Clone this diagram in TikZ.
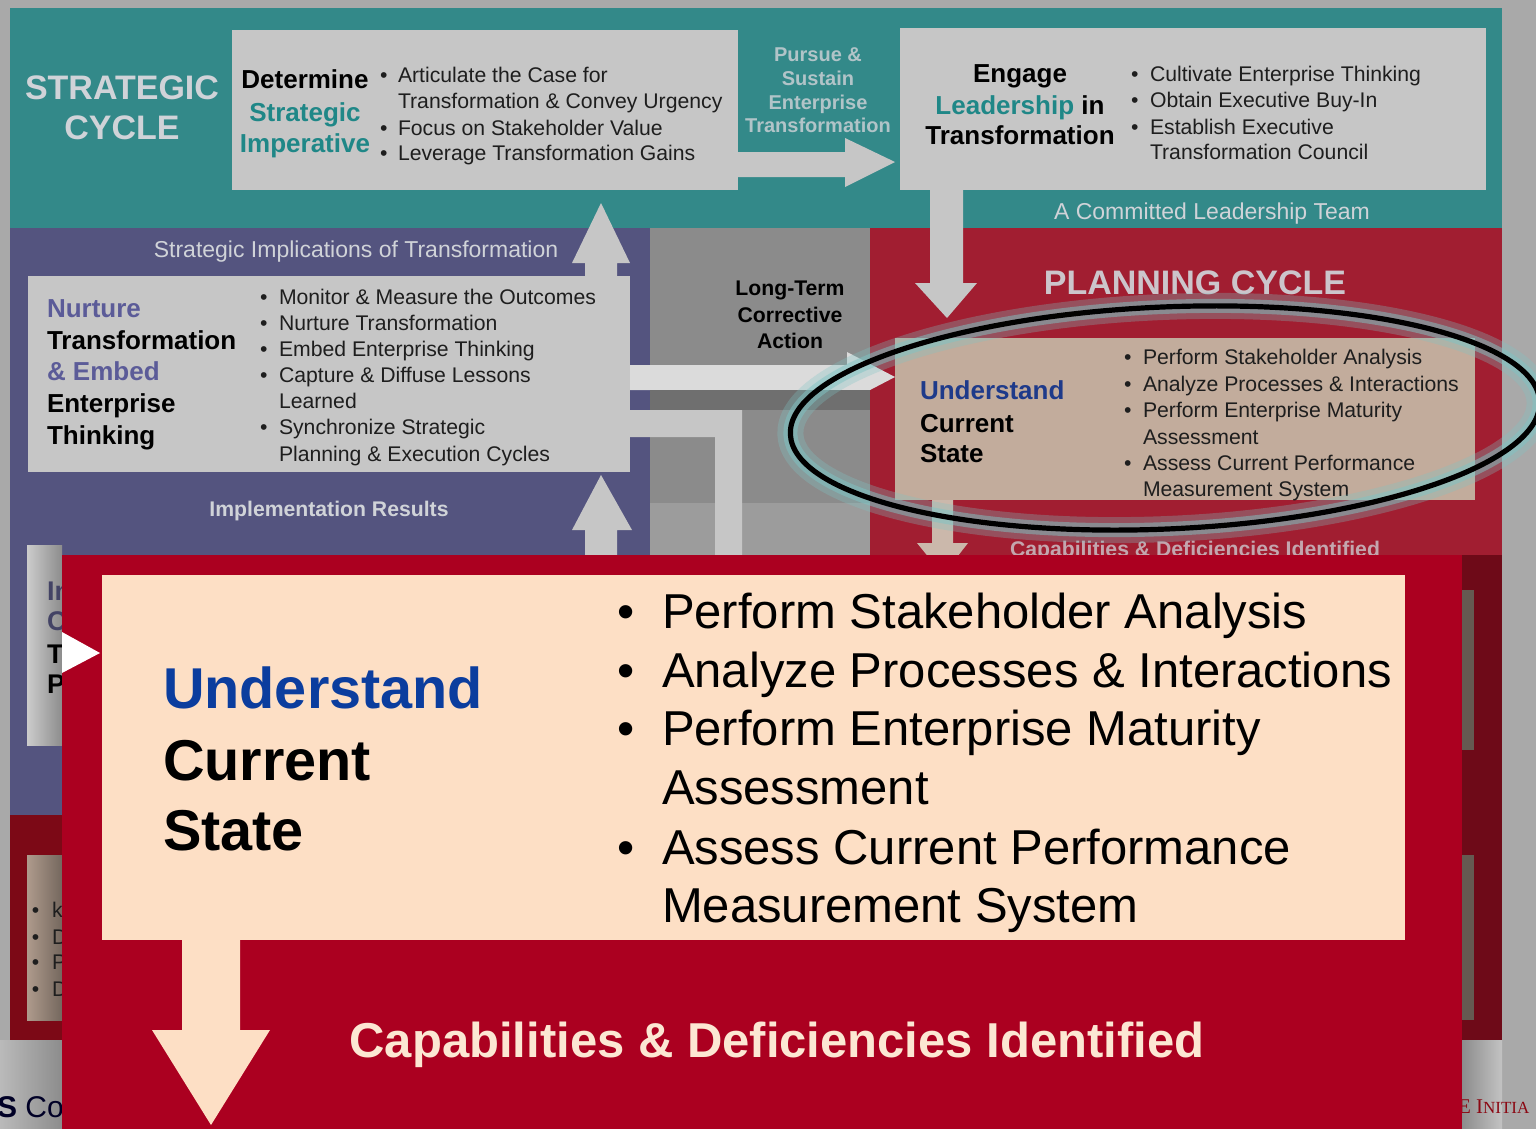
\documentclass[tikz,border=0pt]{standalone}
\usepackage{fontspec}
\setmainfont{Liberation Sans}
\newfontfamily\serifcapsfont{Liberation Serif}
\newcommand\myfs[1]{\fontsize{#1}{#1}\selectfont}
\newcommand\bitem[6]{\node[#1] (#2-b) at (#3,#5) {\textbullet}; \node[#1] (#2) at (#4,#5) {#6};}
\definecolor{bgc}{HTML}{A9A9A9}
\definecolor{tealc}{HTML}{338989}
\definecolor{boxg}{HTML}{C6C6C6}
\definecolor{purp}{HTML}{54547F}
\definecolor{midg}{HTML}{8B8B8B}
\definecolor{planred}{HTML}{A11E31}
\definecolor{tanc}{HTML}{C2AC9C}
\definecolor{insetred}{HTML}{AB0020}
\definecolor{peach}{HTML}{FDDFC5}
\definecolor{bluet}{HTML}{0B3D9E}
\definecolor{bluesm}{HTML}{1E3A8A}
\definecolor{tealt}{HTML}{1F8787}
\definecolor{purpt}{HTML}{5B5B98}
\definecolor{lightlbl}{HTML}{D0D3D8}
\definecolor{darkred}{HTML}{6E0A18}
\definecolor{capt}{HTML}{FCE7D3}
\definecolor{smtxt}{HTML}{1E1E1E}
\definecolor{glow}{HTML}{7FC4C4}
\tikzset{
  txt/.style={inner sep=0pt, outer sep=0pt},
  sm/.style={txt, anchor=base west, font=\myfs{10.6}, text=smtxt},
  big/.style={txt, anchor=base west, font=\myfs{24.5}, text=black},
  hd/.style={txt, anchor=base, font=\bfseries\myfs{13}, text=black},
  hdl/.style={txt, anchor=base west, font=\bfseries\myfs{13}, text=black},
  bighd/.style={txt, anchor=base west, font=\bfseries\myfs{28.8}, text=black},
  cyc/.style={txt, anchor=base, font=\bfseries\myfs{17}, text=lightlbl},
  lbl/.style={txt, anchor=base, font=\myfs{11.5}, text=lightlbl},
  lblb/.style={txt, anchor=base, font=\bfseries\myfs{10.6}, text=lightlbl},
  arrowfill/.style={fill=boxg},
}
\begin{document}
\begin{tikzpicture}[x=0.5pt,y=-0.5pt]
\useasboundingbox (0,0) rectangle (1536,1129);
\fill[bgc] (0,0) rectangle (1536,1129);

% ---------- background regions ----------
\fill[tealc] (10,8) rectangle (1502,228);
\fill[purp] (10,228) rectangle (650,815);
\fill[midg] (650,228) rectangle (870,555);
\fill[midg!85!white] (650,503) rectangle (870,555);
\fill[planred] (870,228) rectangle (1502,555);

% ---------- top boxes ----------
\fill[boxg] (232,30) rectangle (738,190);
\fill[boxg] (900,28) rectangle (1486,190);

% pursue arrow
\fill[arrowfill] (738,152) -- (845,152) -- (845,138) -- (895,162) -- (845,187) -- (845,177) -- (738,177) -- cycle;
% engage down arrow
\fill[arrowfill] (930,190) -- (963,190) -- (963,283) -- (977,283) -- (947,318) -- (915,283) -- (930,283) -- cycle;

% ---------- nurture box and arrows ----------
\fill[boxg] (28,276) rectangle (630,472);
\fill[arrowfill] (585,276) -- (585,263) -- (572,263) -- (601,203) -- (630,263) -- (617,263) -- (617,276) -- cycle;
\fill[arrowfill] (585,555) -- (585,530) -- (572,530) -- (601,475) -- (632,530) -- (617,530) -- (617,555) -- cycle;
\fill[black!14] (630,365) -- (847,365) -- (847,352) -- (895,377) -- (847,402) -- (847,390) -- (630,390) -- cycle;
\fill[midg!80!black] (650,390) rectangle (870,410);
\fill[boxg] (630,410) -- (742,410) -- (742,555) -- (715,555) -- (715,437) -- (630,437) -- cycle;

% ---------- planning box ----------
\fill[tanc] (895,338) rectangle (1475,500);
\fill[tanc!85!white] (932,500) -- (953,500) -- (953,543) -- (968,543) -- (943,575) -- (917,543) -- (932,543) -- cycle;

% ---------- hidden lower parts ----------
\shade[left color=boxg!90!white, right color=black!45] (27,545) rectangle (62,745);
\fill[darkred!90!red] (10,815) rectangle (62,1040);
\shade[left color=tanc!90!black, right color=tanc!60!black] (27,855) rectangle (62,1020);
\shade[left color=bgc!80!white, right color=black!45] (0,1040) rectangle (62,1129);
\fill[darkred] (1462,555) rectangle (1502,1040);
\fill[black!48!tanc] (1462,590) rectangle (1474,750);
\fill[black!48!tanc] (1462,855) rectangle (1474,1020);
\shade[left color=black!45, right color=bgc!70!white] (1462,1040) rectangle (1502,1129);

% ---------- texts (top) ----------
\node[cyc] (strat1) at (122,100) {STRATEGIC};
\node[cyc] (strat2) at (122,140) {CYCLE};

\node[hd] (detA) at (305,89) {Determine};
\node[hd, text=tealt] (detB) at (305,121) {Strategic};
\node[hd, text=tealt] (detC) at (305,152) {Imperative};
\bitem{sm}{d1}{380}{398}{83}{Articulate the Case for}
\node[sm] (d1b2) at (398,109) {Transformation \& Convey Urgency};
\bitem{sm}{d2}{380}{398}{135}{Focus on Stakeholder Value}
\bitem{sm}{d3}{380}{398}{161}{Leverage Transformation Gains}

\node[lblb, text=lightlbl!80!tealc, font=\bfseries\myfs{10}] (p1) at (818,62) {Pursue \&};
\node[lblb, text=lightlbl!80!tealc, font=\bfseries\myfs{10}] (p2) at (818,86) {Sustain};
\node[lblb, text=lightlbl!80!tealc, font=\bfseries\myfs{10}] (p3) at (818,110) {Enterprise};
\node[lblb, text=lightlbl!80!tealc, font=\bfseries\myfs{10}] (p4) at (818,133) {Transformation};

\node[hd] (engA) at (1020,83) {Engage};
\node[hd] (engB) at (1020,114) {\textcolor{tealt}{Leadership} in};
\node[hd] (engC) at (1020,145) {Transformation};
\bitem{sm}{e1}{1131}{1150}{82}{Cultivate Enterprise Thinking}
\bitem{sm}{e2}{1131}{1150}{108}{Obtain Executive Buy-In}
\bitem{sm}{e3}{1131}{1150}{134}{Establish Executive}
\node[sm] (e3b2) at (1150,160) {Transformation Council};
\node[lbl] (team) at (1212,219) {A Committed Leadership Team};

% ---------- texts (middle) ----------
\node[lbl] (impl) at (356,257) {Strategic Implications of Transformation};
\node[hdl, text=purpt] (nA) at (47,317) {Nurture};
\node[hdl] (nB) at (47,349) {Transformation};
\node[hdl, text=purpt] (nC) at (47,380) {\& Embed};
\node[hdl] (nD) at (47,412) {Enterprise};
\node[hdl] (nE) at (47,444) {Thinking};
\bitem{sm}{n1}{260}{279}{304}{Monitor \& Measure the Outcomes}
\bitem{sm}{n2}{260}{279}{330}{Nurture Transformation}
\bitem{sm}{n3}{260}{279}{356}{Embed Enterprise Thinking}
\bitem{sm}{n4}{260}{279}{382}{Capture \& Diffuse Lessons}
\node[sm] (n4b2) at (279,408) {Learned};
\bitem{sm}{n5}{260}{279}{434}{Synchronize Strategic}
\node[sm] (n5b2) at (279,461) {Planning \& Execution Cycles};
\node[lblb] (res) at (329,516) {Implementation Results};

\node[txt, anchor=base, font=\bfseries\myfs{10.6}] (lt1) at (790,295) {Long-Term};
\node[txt, anchor=base, font=\bfseries\myfs{10.6}] (lt2) at (790,322) {Corrective};
\node[txt, anchor=base, font=\bfseries\myfs{10.6}] (lt3) at (790,348) {Action};

\node[cyc, text=lightlbl!92!planred] (plan) at (1195,294) {PLANNING CYCLE};
\node[hdl, text=bluesm] (uA) at (920,399) {Understand};
\node[hdl] (uB) at (920,432) {Current};
\node[hdl] (uC) at (920,462) {State};
\bitem{sm}{u1}{1124}{1143}{364}{Perform Stakeholder Analysis}
\bitem{sm}{u2}{1124}{1143}{391}{Analyze Processes \& Interactions}
\bitem{sm}{u3}{1124}{1143}{417}{Perform Enterprise Maturity}
\node[sm] (u3b2) at (1143,444) {Assessment};
\bitem{sm}{u4}{1124}{1143}{470}{Assess Current Performance}
\node[sm] (u4b2) at (1143,496) {Measurement System};
\node[lblb, text=lightlbl!75!planred] (capsm) at (1195,556) {Capabilities \& Deficiencies Identified};

% ellipse highlight
\draw[glow, line width=13pt, opacity=.3, rotate around={2.5:(1165,418)}] (1165,418) ellipse [x radius=375, y radius=111];
\draw[glow, line width=7pt, opacity=.5, rotate around={2.5:(1165,418)}] (1165,418) ellipse [x radius=375, y radius=111];
\draw[black, line width=2.6pt, rotate around={2.5:(1165,418)}] (1165,418) ellipse [x radius=375, y radius=111];

% hidden lower texts
\node[hdl, text=purp!80!black, font=\bfseries\myfs{13.5}] (hA) at (47,600) {In};
\node[hdl, text=purp!80!black, font=\bfseries\myfs{13.5}] (hB) at (47,630) {C};
\node[hdl, font=\bfseries\myfs{13.5}] (hC) at (47,663) {T};
\node[hdl, font=\bfseries\myfs{13.5}] (hD) at (47,693) {P};
\bitem{sm}{k1}{32}{52}{917}{k}
\bitem{sm}{k2}{32}{52}{944}{D}
\bitem{sm}{k3}{32}{52}{969}{P}
\bitem{sm}{k4}{32}{52}{996}{D}
\node[txt, anchor=base west, font=\myfs{15}, text=black!75!blue!60!black] (foot1) at (-3,1117) {\textbf{S} Co};
\node[txt, anchor=base west, font=\serifcapsfont\myfs{10.5}, text=darkred!80!red] (foot2) at (1458,1113) {E I\myfs{8.5}NITIA};

% ---------- magnified inset ----------
\fill[insetred] (62,555) rectangle (1462,1129);
\fill[peach] (102,575) rectangle (1405,940);
\fill[peach] (182,940) -- (240,940) -- (240,1030) -- (270,1030) -- (211,1125) -- (152,1030) -- (182,1030) -- cycle;
\fill[white] (62,632) -- (100,653) -- (62,673) -- cycle;

\node[bighd, text=bluet] (bA) at (163,708) {Understand};
\node[bighd] (bB) at (163,780) {Current};
\node[bighd] (bC) at (163,850) {State};
\bitem{big}{b1}{617}{662}{628}{Perform Stakeholder Analysis}
\bitem{big}{b2}{617}{662}{687}{Analyze Processes \& Interactions}
\bitem{big}{b3}{617}{662}{745}{Perform Enterprise Maturity}
\node[big] (b3b2) at (662,804) {Assessment};
\bitem{big}{b4}{617}{662}{864}{Assess Current Performance}
\node[big] (b4b2) at (662,922) {Measurement System};
\node[txt, anchor=base, font=\bfseries\myfs{24.5}, text=capt] (cap) at (777,1057) {Capabilities \& Deficiencies Identified};
\end{tikzpicture}
\end{document}
